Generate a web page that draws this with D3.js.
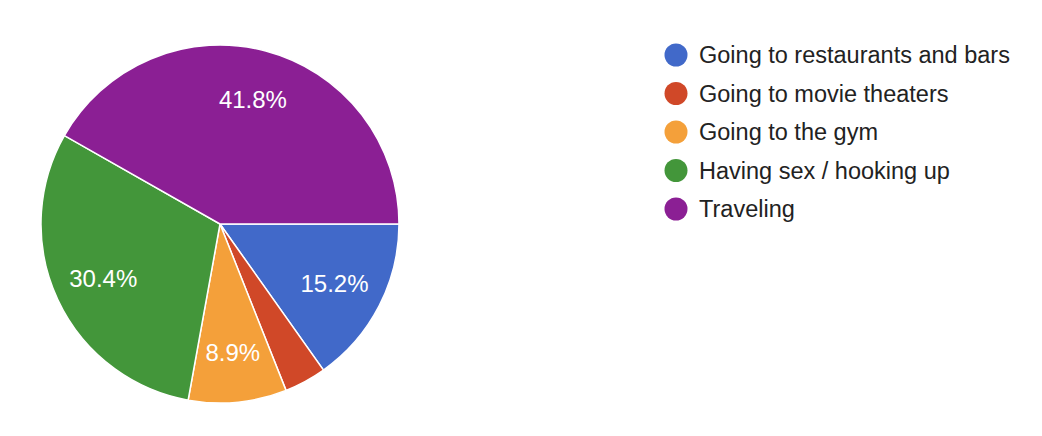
<!DOCTYPE html>
<html>
<head>
<meta charset="utf-8">
<script src="https://cdn.jsdelivr.net/npm/d3@7"></script>
<style>
  body { margin: 0; background: #fff; }
  text { font-family: "Liberation Sans", Arial, sans-serif; }
</style>
</head>
<body>
<div id="chart"></div>
<script>
// Pie chart of answers (counts read from the percentages)

var categories = [
  "Going to restaurants and bars",
  "Going to movie theaters",
  "Going to the gym",
  "Having sex / hooking up",
  "Traveling"
];
var counts = [12, 3, 7, 24, 33];
var colors = ["#4169c9", "#d04828", "#f4a03a", "#43963a", "#8b1f94"];

var width = 1042;
var height = 436;
var cx = 220;
var cy = 224;
var radius = 179;

var svg = d3.select("#chart")
  .append("svg")
  .attr("width", width)
  .attr("height", height);

var data = categories.map(function(c, i) {
  return { name: c, value: counts[i], color: colors[i] };
});
var total = d3.sum(counts);

var pie = d3.pie()
  .sort(null)
  .value(function(d) { return d.value; })
  .startAngle(Math.PI / 2)
  .endAngle(Math.PI / 2 + 2 * Math.PI);

var arc = d3.arc().innerRadius(0).outerRadius(radius);
var labelArc = d3.arc().innerRadius(radius * 0.72).outerRadius(radius * 0.72);

var g = svg.append("g").attr("transform", "translate(" + cx + "," + cy + ")");

var slices = g.selectAll("g.slice").data(pie(data)).enter()
  .append("g").attr("class", "slice");

slices.append("path")
  .attr("d", arc)
  .attr("fill", function(d) { return d.data.color; })
  .attr("stroke", "#fff")
  .attr("stroke-width", 1.5);

slices.filter(function(d) { return d.data.value / total > 0.05; })
  .append("text")
  .attr("transform", function(d) { return "translate(" + labelArc.centroid(d) + ")"; })
  .attr("text-anchor", "middle")
  .attr("dy", "0.36em")
  .attr("fill", "#fff")
  .attr("font-size", 24)
  .text(function(d) { return (d.data.value / total * 100).toFixed(1) + "%"; });

// Legend
var legend = svg.append("g").attr("transform", "translate(676,55)");
var rows = legend.selectAll("g.row").data(data).enter()
  .append("g")
  .attr("class", "row")
  .attr("transform", function(d, i) { return "translate(0," + (i * 38.5) + ")"; });

rows.append("circle")
  .attr("r", 11.5)
  .attr("fill", function(d) { return d.color; });

rows.append("text")
  .attr("x", 23)
  .attr("dy", "0.36em")
  .attr("font-size", 23.5)
  .attr("fill", "#222")
  .text(function(d) { return d.name; });
</script>
</body>
</html>
